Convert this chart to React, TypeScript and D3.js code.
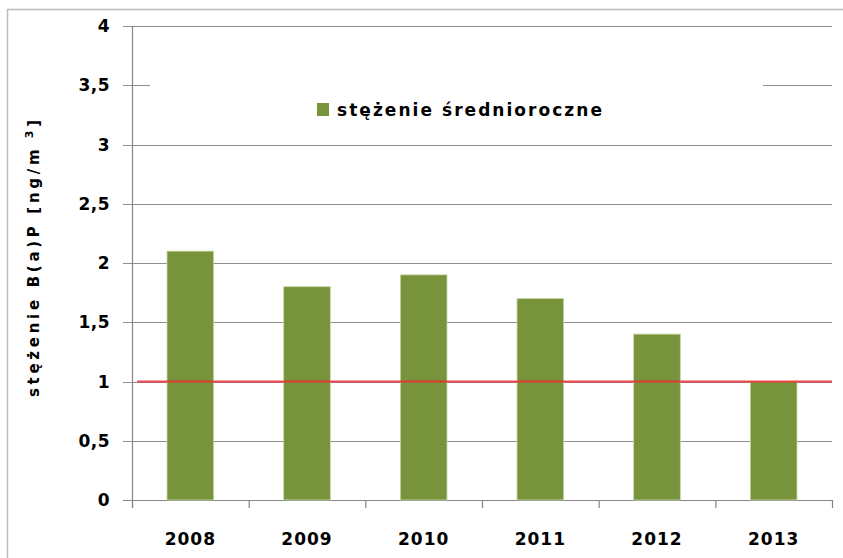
import React, { useEffect } from "react";
import * as d3 from "d3";

const years = ["2008", "2009", "2010", "2011", "2012", "2013"];
const annualMean = [2.1, 1.8, 1.9, 1.7, 1.4, 1.0];
const yTicks = [0, 0.5, 1, 1.5, 2, 2.5, 3, 3.5, 4];
const limitValue = 1;
const seriesName = "stężenie średnioroczne";

const W = 843;
const H = 558;
const plot = { left: 132, right: 832, top: 26, bottom: 500 };
const font = "'DejaVu Sans', Verdana, sans-serif";

export default function App() {
  useEffect(() => {
    document.body.style.margin = "0";
  }, []);

  const x = d3.scaleBand<string>().domain(years).range([plot.left, plot.right]).padding(0);
  const y = d3.scaleLinear().domain([0, 4]).range([plot.bottom, plot.top]);
  const barW = x.bandwidth() * 0.4;
  const fmt = (v: number) => String(v).replace(".", ",");

  return (
    <svg width={W} height={H} style={{ display: "block", background: "#fff" }}>
      {/* outer chart border (right/bottom cropped) */}
      <rect x={7.5} y={9.5} width={W + 20} height={H + 20} fill="none" stroke="#bcbcbc" strokeWidth={1.5} />

      {/* gridlines + y ticks */}
      {yTicks.map((t) => (
        <g key={t}>
          <line
            x1={plot.left - 9}
            x2={plot.right}
            y1={Math.round(y(t)) + 0.5}
            y2={Math.round(y(t)) + 0.5}
            stroke={t === 0 ? "#868686" : "#8f8f8f"}
            strokeWidth={1.2}
          />
          <text
            x={110}
            y={y(t)}
            dy="0.36em"
            textAnchor="end"
            fontFamily={font}
            fontWeight="bold"
            fontSize={17}
            letterSpacing={0.5}
            fill="#000"
          >
            {fmt(t)}
          </text>
        </g>
      ))}

      {/* legend box covers gridline */}
      <rect x={150} y={52} width={613} height={74} fill="#fff" />
      <rect x={317} y={103} width={12} height={13} fill="#77933c" />
      <text
        x={337}
        y={116}
        fontFamily={font}
        fontWeight="bold"
        fontSize={17}
        textLength={265}
        lengthAdjust="spacing"
        fill="#000"
      >
        {seriesName}
      </text>

      {/* y axis */}
      <line x1={plot.left + 0.5} x2={plot.left + 0.5} y1={plot.top} y2={plot.bottom + 8} stroke="#868686" strokeWidth={1.2} />

      {/* x ticks */}
      {[...years.map((d) => x(d) as number), plot.right].map((px, i) => (
        <line key={i} x1={px + 0.5} x2={px + 0.5} y1={plot.bottom} y2={plot.bottom + 8} stroke="#868686" strokeWidth={1.2} />
      ))}

      {/* bars */}
      {years.map((d, i) => {
        const cx = (x(d) as number) + x.bandwidth() / 2;
        return (
          <rect
            key={d}
            x={cx - barW / 2}
            y={y(annualMean[i])}
            width={barW}
            height={y(0) - y(annualMean[i])}
            fill="#77933c"
            stroke="#c9d9a6"
            strokeWidth={0.8}
          />
        );
      })}

      {/* limit line */}
      <line
        x1={137}
        x2={plot.right}
        y1={y(limitValue)}
        y2={y(limitValue)}
        stroke="#ee2a2f"
        strokeOpacity={0.85}
        strokeWidth={2.2}
      />

      {/* x labels */}
      {years.map((d) => (
        <text
          key={d}
          x={(x(d) as number) + x.bandwidth() / 2}
          y={545}
          textAnchor="middle"
          fontFamily={font}
          fontWeight="bold"
          fontSize={17}
          letterSpacing={1}
          fill="#000"
        >
          {d}
        </text>
      ))}

      {/* y axis title */}
      <text
        transform="translate(39,397) rotate(-90)"
        fontFamily={font}
        fontWeight="bold"
        fontSize={15}
        textLength={277}
        lengthAdjust="spacing"
        fill="#000"
      >
        stężenie B(a)P [ng/m
        <tspan dy={-6} fontSize={11}> 3</tspan>
        <tspan dy={6}>]</tspan>
      </text>
    </svg>
  );
}
